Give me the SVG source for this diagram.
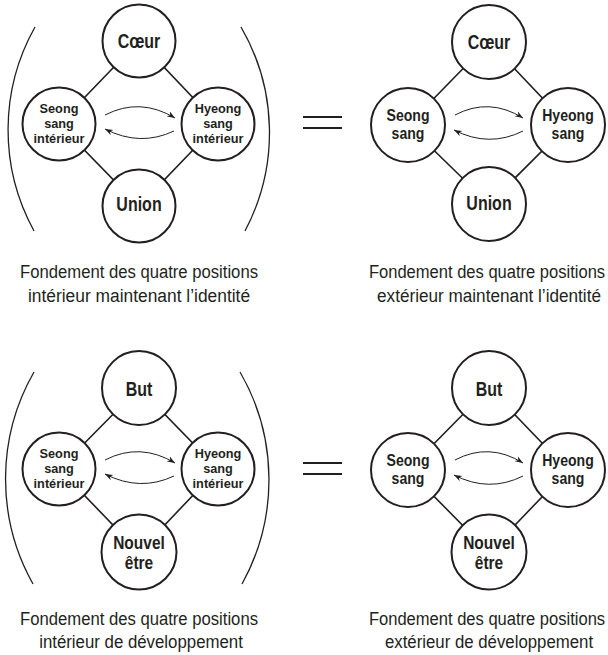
<svg xmlns="http://www.w3.org/2000/svg" width="608" height="655" viewBox="0 0 608 655">
<defs>
<style>
.c{fill:#fff;stroke:#231f20;stroke-width:2}
.ln{stroke:#231f20;stroke-width:1.6;fill:none}
.ar{stroke:#231f20;stroke-width:1;fill:none;marker-end:url(#ah)}
.par{stroke:#231f20;stroke-width:1.3;fill:none}
.eq{stroke:#231f20;stroke-width:2.2}
text{font-family:"Liberation Sans",Arial,sans-serif;fill:#231f20;text-anchor:middle}
.big{font-size:19.5px;font-weight:bold}
.nv{font-size:17.8px;font-weight:bold}
.mid{font-size:16px;font-weight:bold}
.sm{font-size:13.4px;font-weight:bold}
.cap{font-size:19px}
</style>
<marker id="ah" markerUnits="userSpaceOnUse" markerWidth="9" markerHeight="7" refX="8" refY="3.5" orient="auto">
<path d="M0,0.5 L8,3.5 L0,6.5 L2.5,3.5 z" fill="#231f20"/>
</marker>
</defs>
<rect width="608" height="655" fill="#fff"/>

<g id="connectors">
<path class="ln" d="M139,41 L59,124 L139,206 L218,124 Z"/>
<path class="ar" d="M105,115 Q140,97 175,118"/>
<path class="ar" d="M174,131 Q140,147 105,129"/>
<path class="ln" d="M489,42 L408,125 L489,204 L568,125 Z"/>
<path class="ar" d="M455,115 Q489,97 523,118"/>
<path class="ar" d="M523,131 Q489,148 454,130"/>
<path class="ln" d="M139,388 L59,469 L139,552 L218,469 Z"/>
<path class="ar" d="M105,460 Q140,442 175,463"/>
<path class="ar" d="M174,476 Q140,492 105,474"/>
<path class="ln" d="M489,388 L408,470 L489,552 L568,470 Z"/>
<path class="ar" d="M455,460 Q489,442 523,463"/>
<path class="ar" d="M523,476 Q489,493 454,475"/>
</g>

<g id="brackets">
<path class="par" d="M35,27 A210,210 0 0 0 34,231"/>
<path class="par" d="M241,27 A210,210 0 0 1 245,231"/>
<path class="par" d="M34,372 A215,215 0 0 0 33,584"/>
<path class="par" d="M240,372 A215,215 0 0 1 242,584"/>
<line class="eq" x1="303" y1="117" x2="342" y2="117"/>
<line class="eq" x1="303" y1="128" x2="342" y2="128"/>
<line class="eq" x1="303" y1="463" x2="342" y2="463"/>
<line class="eq" x1="303" y1="474" x2="342" y2="474"/>
</g>

<g id="tl-coeur"><circle class="c" cx="139" cy="41" r="36.5"/><text class="big" transform="translate(139,48) scale(0.82,1)">Cœur</text></g>
<g id="tl-seong"><circle class="c" cx="59" cy="124" r="36.5"/><text class="sm" transform="translate(59,0) scale(0.95,1)"><tspan x="0" y="113">Seong</tspan><tspan x="0" y="128">sang</tspan><tspan x="0" y="143">intérieur</tspan></text></g>
<g id="tl-hyeong"><circle class="c" cx="218" cy="124" r="36.5"/><text class="sm" transform="translate(218,0) scale(0.95,1)"><tspan x="0" y="113">Hyeong</tspan><tspan x="0" y="128">sang</tspan><tspan x="0" y="143">intérieur</tspan></text></g>
<g id="tl-union"><circle class="c" cx="139" cy="206" r="36.5"/><text class="big" transform="translate(139,211) scale(0.82,1)">Union</text></g>

<g id="tr-coeur"><circle class="c" cx="489" cy="42" r="37"/><text class="big" transform="translate(489,49) scale(0.82,1)">Cœur</text></g>
<g id="tr-seong"><circle class="c" cx="408" cy="125" r="37"/><text class="mid" transform="translate(408,0) scale(0.88,1)"><tspan x="0" y="121">Seong</tspan><tspan x="0" y="139">sang</tspan></text></g>
<g id="tr-hyeong"><circle class="c" cx="568" cy="125" r="37"/><text class="mid" transform="translate(568,0) scale(0.88,1)"><tspan x="0" y="121">Hyeong</tspan><tspan x="0" y="139">sang</tspan></text></g>
<g id="tr-union"><circle class="c" cx="489" cy="204" r="37"/><text class="big" transform="translate(489,210) scale(0.82,1)">Union</text></g>

<g id="bl-but"><circle class="c" cx="139" cy="388" r="37"/><text class="big" transform="translate(139,396) scale(0.82,1)">But</text></g>
<g id="bl-seong"><circle class="c" cx="59" cy="469" r="36.5"/><text class="sm" transform="translate(59,0) scale(0.95,1)"><tspan x="0" y="458">Seong</tspan><tspan x="0" y="473">sang</tspan><tspan x="0" y="488">intérieur</tspan></text></g>
<g id="bl-hyeong"><circle class="c" cx="218" cy="469" r="36.5"/><text class="sm" transform="translate(218,0) scale(0.95,1)"><tspan x="0" y="458">Hyeong</tspan><tspan x="0" y="473">sang</tspan><tspan x="0" y="488">intérieur</tspan></text></g>
<g id="bl-nouvel"><circle class="c" cx="139" cy="552" r="37.5"/><text class="nv" transform="translate(139,0) scale(0.87,1)"><tspan x="0" y="549">Nouvel</tspan><tspan x="0" y="569">être</tspan></text></g>

<g id="br-but"><circle class="c" cx="489" cy="388" r="37"/><text class="big" transform="translate(489,396) scale(0.82,1)">But</text></g>
<g id="br-seong"><circle class="c" cx="408" cy="470" r="37"/><text class="mid" transform="translate(408,0) scale(0.88,1)"><tspan x="0" y="466">Seong</tspan><tspan x="0" y="484">sang</tspan></text></g>
<g id="br-hyeong"><circle class="c" cx="568" cy="470" r="37"/><text class="mid" transform="translate(568,0) scale(0.88,1)"><tspan x="0" y="466">Hyeong</tspan><tspan x="0" y="484">sang</tspan></text></g>
<g id="br-nouvel"><circle class="c" cx="489" cy="552" r="37.5"/><text class="nv" transform="translate(489,0) scale(0.87,1)"><tspan x="0" y="549">Nouvel</tspan><tspan x="0" y="569">être</tspan></text></g>

<g id="captions">
<text class="cap" transform="translate(139,278) scale(0.878,1)" textLength="271" lengthAdjust="spacingAndGlyphs">Fondement des quatre positions</text>
<text class="cap" transform="translate(139,302) scale(0.878,1)" textLength="253" lengthAdjust="spacingAndGlyphs">intérieur maintenant l’identité</text>
<text class="cap" transform="translate(487,278) scale(0.878,1)" textLength="269" lengthAdjust="spacingAndGlyphs">Fondement des quatre positions</text>
<text class="cap" transform="translate(489,302) scale(0.878,1)" textLength="255" lengthAdjust="spacingAndGlyphs">extérieur maintenant l’identité</text>
<text class="cap" transform="translate(139,625) scale(0.878,1)" textLength="271" lengthAdjust="spacingAndGlyphs">Fondement des quatre positions</text>
<text class="cap" transform="translate(141,648) scale(0.878,1)" textLength="232" lengthAdjust="spacingAndGlyphs">intérieur de développement</text>
<text class="cap" transform="translate(487,625) scale(0.878,1)" textLength="269" lengthAdjust="spacingAndGlyphs">Fondement des quatre positions</text>
<text class="cap" transform="translate(489,648) scale(0.878,1)" textLength="237" lengthAdjust="spacingAndGlyphs">extérieur de développement</text>
</g>
</svg>
